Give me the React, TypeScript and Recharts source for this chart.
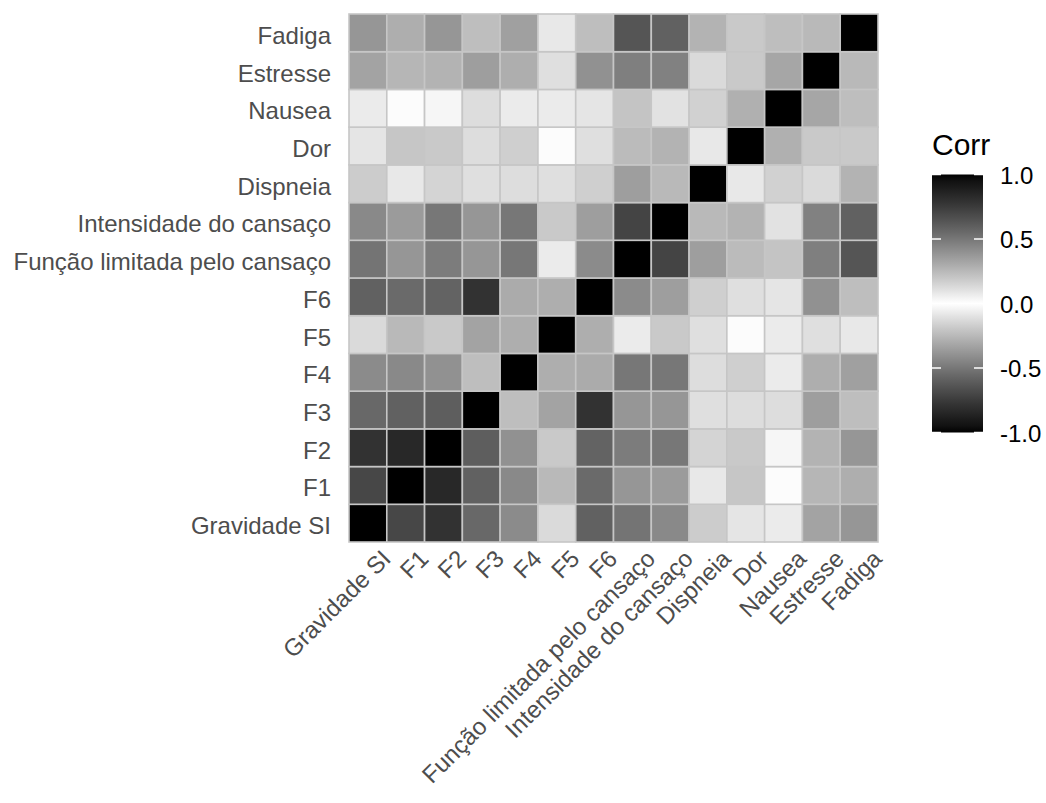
import React from 'react';
import { ScatterChart, Scatter, XAxis, YAxis } from 'recharts';

// Variables in axis order (index 0 = bottom row / left column)
const variables = [
  'Gravidade SI',
  'F1',
  'F2',
  'F3',
  'F4',
  'F5',
  'F6',
  'Função limitada pelo cansaço',
  'Intensidade do cansaço',
  'Dispneia',
  'Dor',
  'Nausea',
  'Estresse',
  'Fadiga',
];

// Lower-triangle correlation rows (row i holds columns 0..i)
const rowGravidade = [1];
const rowF1 = [0.7, 1];
const rowF2 = [0.79, 0.84, 1];
const rowF3 = [0.56, 0.59, 0.6, 1];
const rowF4 = [0.42, 0.43, 0.4, 0.23, 1];
const rowF5 = [0.13, 0.25, 0.19, 0.33, 0.29, 1];
const rowF6 = [0.59, 0.55, 0.58, 0.79, 0.3, 0.29, 1];
const rowFuncao = [0.51, 0.38, 0.48, 0.38, 0.5, 0.07, 0.42, 1];
const rowIntensidade = [0.43, 0.36, 0.5, 0.38, 0.5, 0.19, 0.35, 0.71, 1];
const rowDispneia = [0.18, 0.08, 0.15, 0.11, 0.12, 0.11, 0.17, 0.35, 0.25, 1];
const rowDor = [0.09, 0.2, 0.19, 0.12, 0.17, 0.01, 0.11, 0.24, 0.27, 0.08, 1];
const rowNausea = [0.07, 0.01, 0.03, 0.12, 0.07, 0.07, 0.09, 0.21, 0.1, 0.16, 0.28, 1];
const rowEstresse = [0.33, 0.26, 0.27, 0.35, 0.29, 0.11, 0.4, 0.47, 0.46, 0.13, 0.19, 0.32, 1];
const rowFadiga = [0.38, 0.29, 0.38, 0.23, 0.34, 0.08, 0.23, 0.64, 0.59, 0.27, 0.19, 0.23, 0.25, 1];

const lowerRows = [
  rowGravidade, rowF1, rowF2, rowF3, rowF4, rowF5, rowF6,
  rowFuncao, rowIntensidade, rowDispneia, rowDor, rowNausea, rowEstresse, rowFadiga,
];

const legendTicks = [1, 0.5, 0, -0.5, -1];
const legendLabels = ['1.0', '0.5', '0.0', '-0.5', '-1.0'];

const axisTicks = variables.map((_, i) => i);

// Build full symmetric matrix as tile data
const tiles: { x: number; y: number; value: number }[] = [];
for (let i = 0; i < variables.length; i++) {
  for (let j = 0; j < variables.length; j++) {
    const v = i >= j ? lowerRows[i][j] : lowerRows[j][i];
    tiles.push({ x: j, y: i, value: v });
  }
}

// black (-1) -> white (0) -> black (1), interpolated in CIELAB lightness
function corrColor(r: number): string {
  const L = 100 * (1 - Math.min(1, Math.abs(r)));
  const Y = L > 8 ? Math.pow((L + 16) / 116, 3) : L / 903.3;
  const c = Y <= 0.0031308 ? 12.92 * Y : 1.055 * Math.pow(Y, 1 / 2.4) - 0.055;
  const g = Math.max(0, Math.min(255, Math.round(255 * c)));
  return `rgb(${g},${g},${g})`;
}

const W = 1046;
const H = 803;
const PLOT_LEFT = 349;
const PLOT_TOP = 14;
const PLOT_RIGHT = 878;
const PLOT_BOTTOM = 542;
const CELL_W = (PLOT_RIGHT - PLOT_LEFT) / variables.length;
const CELL_H = (PLOT_BOTTOM - PLOT_TOP) / variables.length;
const FONT = '"Liberation Sans", Arial, sans-serif';

const Tile = (props: any) => {
  const { cx, cy, payload } = props;
  return (
    <rect
      x={cx - CELL_W / 2}
      y={cy - CELL_H / 2}
      width={CELL_W}
      height={CELL_H}
      fill={corrColor(payload.value)}
      stroke="#c6c6c6"
      strokeWidth={1.6}
    />
  );
};

const XTick = (props: any) => {
  const { x, y, payload } = props;
  const ax = x + 12;
  const ay = y;
  return (
    <text
      x={ax}
      y={ay}
      dy="0.72em"
      transform={`rotate(-45 ${ax} ${ay})`}
      textAnchor="end"
      fontSize={24}
      fontFamily={FONT}
      fill="#4d4d4d"
    >
      {variables[payload.value]}
    </text>
  );
};

const YTick = (props: any) => {
  const { x, y, payload } = props;
  return (
    <text
      x={x}
      y={y}
      dy={11}
      textAnchor="end"
      fontSize={24}
      fontFamily={FONT}
      fill="#4d4d4d"
    >
      {variables[payload.value]}
    </text>
  );
};

const BAR_X = 932;
const BAR_W = 51;
const BAR_TOP = 174.5;
const BAR_BOTTOM = 432.5;
const barY = (v: number) => BAR_TOP + ((1 - v) / 2) * (BAR_BOTTOM - BAR_TOP);

const gradientStops = Array.from({ length: 41 }, (_, k) => {
  const v = 1 - k * 0.05;
  return { offset: `${(k / 40) * 100}%`, color: corrColor(v) };
});

export default function App() {
  return (
    <div style={{ position: 'absolute', left: 0, top: 0, width: W, height: H, background: '#fff' }}>
      <ScatterChart
        width={W}
        height={H}
        margin={{ top: PLOT_TOP, right: W - PLOT_RIGHT, bottom: 0, left: 0 }}
      >
        <XAxis
          dataKey="x"
          type="number"
          domain={[-0.5, 13.5]}
          ticks={axisTicks}
          interval={0}
          height={H - PLOT_BOTTOM}
          axisLine={false}
          tickLine={false}
          tickSize={0}
          tickMargin={6}
          tick={<XTick />}
        />
        <YAxis
          dataKey="y"
          type="number"
          domain={[-0.5, 13.5]}
          ticks={axisTicks}
          interval={0}
          width={PLOT_LEFT}
          axisLine={false}
          tickLine={false}
          tickSize={0}
          tickMargin={18}
          tick={<YTick />}
        />
        <Scatter data={tiles} shape={<Tile />} isAnimationActive={false} />
      </ScatterChart>
      <svg
        width={W}
        height={H}
        style={{ position: 'absolute', left: 0, top: 0, pointerEvents: 'none' }}
      >
        <defs>
          <linearGradient id="corrGrad" x1="0" y1="0" x2="0" y2="1">
            {gradientStops.map((s, i) => (
              <stop key={i} offset={s.offset} stopColor={s.color} />
            ))}
          </linearGradient>
        </defs>
        <text x={BAR_X} y={155} fontSize={30} fontFamily={FONT} fill="#000">
          Corr
        </text>
        <rect x={BAR_X} y={BAR_TOP} width={BAR_W} height={BAR_BOTTOM - BAR_TOP} fill="url(#corrGrad)" />
        {legendTicks.map((v, i) => (
          <g key={i}>
            <line x1={BAR_X} x2={BAR_X + 9} y1={barY(v)} y2={barY(v)} stroke="#fff" strokeWidth={1.5} />
            <line x1={BAR_X + BAR_W - 9} x2={BAR_X + BAR_W} y1={barY(v)} y2={barY(v)} stroke="#fff" strokeWidth={1.5} />
            <text
              x={1000}
              y={barY(v)}
              dy={9}
              fontSize={24}
              fontFamily={FONT}
              fill="#000"
            >
              {legendLabels[i]}
            </text>
          </g>
        ))}
      </svg>
    </div>
  );
}
